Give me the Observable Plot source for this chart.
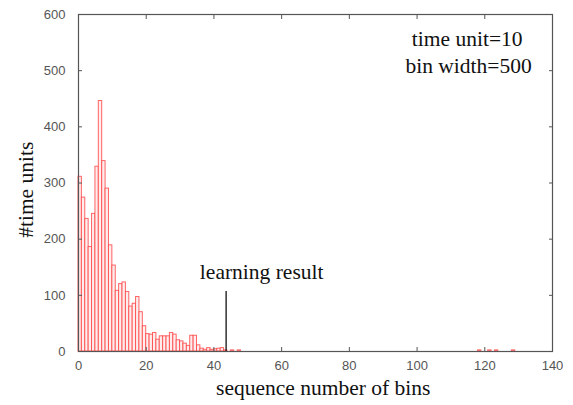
<!DOCTYPE html>
<html>
<head>
<meta charset="utf-8">
<script src="https://cdn.jsdelivr.net/npm/d3@7"></script>
<script src="https://cdn.jsdelivr.net/npm/@observablehq/plot@0.6"></script>
<style>
  html, body { margin: 0; padding: 0; background: #fff; }
  #chart { width: 573px; height: 405px; }
</style>
</head>
<body>
<div id="chart"></div>
<script>
// Histogram of time units per bin (bin index -> count)
const bins = [0, 1, 2, 3, 4, 5, 6, 7, 8, 9, 10, 11, 12, 13, 14, 15, 16, 17, 18, 19,
  20, 21, 22, 23, 24, 25, 26, 27, 28, 29, 30, 31, 32, 33, 34, 35, 36, 37, 38, 39,
  40, 41, 42, 43, 45, 47, 118, 121, 123, 128];
const counts = [311, 274, 236, 186, 245, 329, 446, 339, 290, 189, 153, 108, 120, 123, 106, 80, 85, 97, 70, 45,
  31, 30, 33, 21, 27, 27, 27, 33, 30, 20, 18, 14, 10, 28, 28, 11, 5, 3, 6, 3,
  4, 5, 6, 2, 2, 2, 2, 2, 2, 2];

const xTicks = [0, 20, 40, 60, 80, 100, 120, 140];
const yTicks = [0, 100, 200, 300, 400, 500, 600];

const xTitle = "sequence number of bins";
const yTitle = "#time units";

// marker for the learned bin
const learningBin = 43.6;
const learningTop = 107;
const learningLabel = "learning result";
const learningLabelPos = { x: 54.1, y: 141 };

// parameter notes, top right
const notes = ["time unit=10", "bin width=500"];
const notesX = [114.8, 115.2];
const notesY = [557, 509];

const rows = bins.map((b, i) => ({ bin: b, count: counts[i] }));
const noteRows = notes.map((t, i) => ({ text: t, x: notesX[i], y: notesY[i] }));

const serif = "'Liberation Serif', 'Times New Roman', serif";
const tickColor = "#555";
const blank = () => "";

const chart = Plot.plot({
  width: 573,
  height: 405,
  marginLeft: 78,
  marginRight: 21,
  marginTop: 14,
  marginBottom: 54,
  style: { fontFamily: "'Liberation Sans', Arial, sans-serif", background: "white", overflow: "visible" },
  x: { domain: [0, 140] },
  y: { domain: [0, 600] },
  marks: [
    Plot.rect(rows, {
      x1: "bin",
      x2: d => d.bin + 1,
      y1: 0,
      y2: "count",
      fill: "#ffecec",
      stroke: "#ff4040",
      strokeWidth: 1,
      strokeOpacity: 0.8
    }),
    // tick labels
    Plot.axisX({ ticks: xTicks, tickSize: 0, tickPadding: 9, fontSize: 13, color: "#555", label: null }),
    Plot.axisY({ ticks: yTicks, tickSize: 0, tickPadding: 13, fontSize: 13, color: "#555", label: null }),
    // inward ticks on all four sides
    Plot.axisX({ ticks: xTicks, tickSize: -4, tickFormat: blank, stroke: tickColor, label: null }),
    Plot.axisX({ anchor: "top", ticks: xTicks, tickSize: -4, tickFormat: blank, stroke: tickColor, label: null }),
    Plot.axisY({ ticks: yTicks, tickSize: -4, tickFormat: blank, stroke: tickColor, label: null }),
    Plot.axisY({ anchor: "right", ticks: yTicks, tickSize: -4, tickFormat: blank, stroke: tickColor, label: null }),
    Plot.frame({ stroke: "#555", strokeWidth: 1.2 }),
    // learning result marker
    Plot.ruleX([learningBin], { y1: 0, y2: learningTop, stroke: "#111", strokeWidth: 1.3 }),
    Plot.text([learningLabel], {
      x: learningLabelPos.x, y: learningLabelPos.y, text: d => d,
      fontFamily: serif, fontSize: 21.5, fill: "#111"
    }),
    Plot.text(noteRows, {
      x: "x", y: "y", text: "text",
      fontFamily: serif, fontSize: 21.5, fill: "#111"
    }),
    // axis titles
    Plot.text([xTitle], {
      x: 72.3, frameAnchor: "bottom", dy: 43, text: d => d,
      fontFamily: serif, fontSize: 21.5, fill: "#111"
    }),
    Plot.text([yTitle], {
      y: 288, frameAnchor: "left", dx: -52, rotate: -90, textAnchor: "middle", text: d => d,
      fontFamily: serif, fontSize: 21.5, fill: "#111"
    })
  ]
});

document.getElementById("chart").appendChild(chart);
</script>
</body>
</html>
